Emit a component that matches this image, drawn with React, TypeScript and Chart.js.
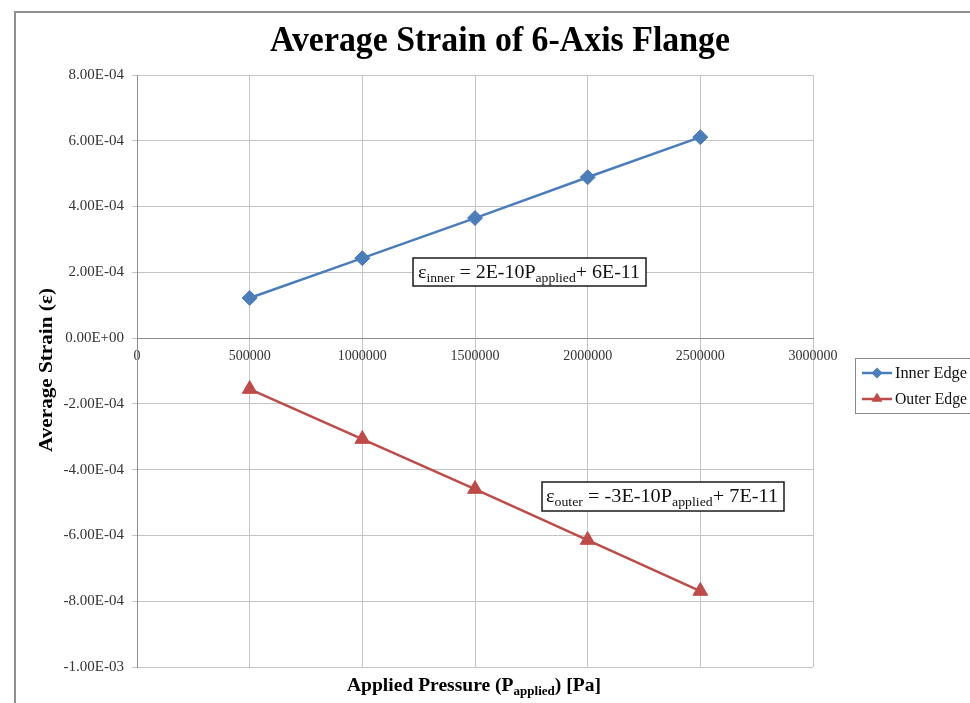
import React, { useEffect, useRef } from 'react';
import { Chart, registerables } from 'chart.js';

Chart.register(...registerables);

// ---- data ----
const pressures = [500000, 1000000, 1500000, 2000000, 2500000];
const innerStrain = [1.22e-4, 2.43e-4, 3.65e-4, 4.89e-4, 6.11e-4];
const outerStrain = [-1.55e-4, -3.07e-4, -4.59e-4, -6.14e-4, -7.69e-4];
const seriesNames = ['Inner Edge', 'Outer Edge'];
const chartTitle = 'Average Strain of 6-Axis Flange';
const xRange = [0, 3000000];
const xStep = 500000;
const yRange = [-1e-3, 8e-4];
const yStep = 2e-4;

type Seg = { t: string; sub?: boolean };
const yTitleSegs: Seg[] = [{ t: 'Average Strain (ε)' }];
const xTitleSegs: Seg[] = [{ t: 'Applied Pressure (P' }, { t: 'applied', sub: true }, { t: ') [Pa]' }];
const innerEqSegs: Seg[] = [{ t: 'ε' }, { t: 'inner', sub: true }, { t: ' = 2E-10P' }, { t: 'applied', sub: true }, { t: '+ 6E-11' }];
const outerEqSegs: Seg[] = [{ t: 'ε' }, { t: 'outer', sub: true }, { t: ' = -3E-10P' }, { t: 'applied', sub: true }, { t: '+ 7E-11' }];

const BLUE = '#4a7ebb';
const RED = '#be4b48';
const SERIF = '"Liberation Serif", "Times New Roman", serif';

function fmtSci(v: number): string {
  if (Math.abs(v) < 1e-12) return '0.00E+00';
  const s = v.toExponential(2).toUpperCase();
  const [m, e] = s.split('E');
  const sign = e[0] === '-' ? '-' : '+';
  const digits = e.replace(/[+-]/, '').padStart(2, '0');
  return `${m}E${sign}${digits}`;
}

function fontStr(size: number, bold: boolean) {
  return `${bold ? 'bold ' : ''}${size}px ${SERIF}`;
}

function measureRich(ctx: CanvasRenderingContext2D, segs: Seg[], size: number, bold: boolean) {
  let w = 0;
  for (const s of segs) {
    ctx.font = fontStr(s.sub ? Math.round(size * 0.68) : size, bold);
    w += ctx.measureText(s.t).width;
  }
  return w;
}

function drawRich(
  ctx: CanvasRenderingContext2D,
  segs: Seg[],
  x: number,
  baseline: number,
  size: number,
  bold: boolean,
  align: 'left' | 'center',
  targetWidth?: number,
  color = '#000'
) {
  const natural = measureRich(ctx, segs, size, bold);
  const sx = targetWidth ? targetWidth / natural : 1;
  const total = natural * sx;
  const startX = align === 'center' ? x - total / 2 : x;
  ctx.save();
  ctx.translate(startX, baseline);
  ctx.scale(sx, 1);
  ctx.fillStyle = color;
  ctx.textAlign = 'left';
  ctx.textBaseline = 'alphabetic';
  let cx = 0;
  for (const s of segs) {
    const fs = s.sub ? Math.round(size * 0.68) : size;
    ctx.font = fontStr(fs, bold);
    ctx.fillText(s.t, cx, s.sub ? size * 0.22 : 0);
    cx += ctx.measureText(s.t).width;
  }
  ctx.restore();
}

function drawDiamond(ctx: CanvasRenderingContext2D, x: number, y: number, r: number) {
  ctx.beginPath();
  ctx.moveTo(x - r, y);
  ctx.lineTo(x, y - r);
  ctx.lineTo(x + r, y);
  ctx.lineTo(x, y + r);
  ctx.closePath();
  ctx.fill();
}

function drawTriangle(ctx: CanvasRenderingContext2D, x: number, y: number, r: number) {
  ctx.beginPath();
  ctx.moveTo(x, y - r);
  ctx.lineTo(x + r, y + r * 0.7);
  ctx.lineTo(x - r, y + r * 0.7);
  ctx.closePath();
  ctx.fill();
}

const decorPlugin = {
  id: 'decor',
  beforeDraw(chart: Chart) {
    const ctx = chart.ctx;
    ctx.save();
    ctx.fillStyle = '#ffffff';
    ctx.fillRect(0, 0, chart.width, chart.height);
    ctx.strokeStyle = '#8f8f8f';
    ctx.lineWidth = 2;
    ctx.beginPath();
    ctx.moveTo(15, chart.height + 5);
    ctx.lineTo(15, 12);
    ctx.lineTo(chart.width + 5, 12);
    ctx.stroke();
    ctx.restore();
  },
  afterDraw(chart: Chart) {
    const ctx = chart.ctx;
    // Title
    drawRich(ctx, [{ t: chartTitle }], 500, 51, 35, true, 'center', 460);
    // X axis title
    drawRich(ctx, xTitleSegs, 474, 691, 18, true, 'center', 254);
    // Y axis title
    ctx.save();
    ctx.translate(52, 370);
    ctx.rotate(-Math.PI / 2);
    drawRich(ctx, yTitleSegs, 0, 0, 18, true, 'center', 164);
    ctx.restore();

    // Equation boxes
    const boxes = [
      { segs: innerEqSegs, x: 413, y: 258, w: 233, h: 28, tx: 418, base: 278, tw: 222 },
      { segs: outerEqSegs, x: 542, y: 482, w: 242, h: 29, tx: 546, base: 502, tw: 232 },
    ];
    for (const b of boxes) {
      ctx.save();
      ctx.fillStyle = '#fff';
      ctx.fillRect(b.x, b.y, b.w, b.h);
      ctx.strokeStyle = '#1a1a1a';
      ctx.lineWidth = 1.5;
      ctx.strokeRect(b.x, b.y, b.w, b.h);
      ctx.restore();
      drawRich(ctx, b.segs, b.tx, b.base, 19, false, 'left', b.tw, '#111');
    }

    // Legend
    ctx.save();
    ctx.fillStyle = '#fff';
    ctx.fillRect(855, 358, 120, 55);
    ctx.strokeStyle = '#8a8a8a';
    ctx.lineWidth = 1;
    ctx.strokeRect(855.5, 358.5, 120, 55);
    const rows = [
      { name: seriesNames[0], color: BLUE, y: 373, marker: 'diamond' },
      { name: seriesNames[1], color: RED, y: 399, marker: 'triangle' },
    ];
    for (const r of rows) {
      ctx.strokeStyle = r.color;
      ctx.fillStyle = r.color;
      ctx.lineWidth = 2.5;
      ctx.beginPath();
      ctx.moveTo(862, r.y);
      ctx.lineTo(892, r.y);
      ctx.stroke();
      if (r.marker === 'diamond') drawDiamond(ctx, 877, r.y, 5.5);
      else drawTriangle(ctx, 877, r.y - 1, 5.5);
      drawRich(ctx, [{ t: r.name }], 895, r.y + 5, 16, false, 'left', 72, '#111');
    }
    ctx.restore();
  },
};

export default function App() {
  const ref = useRef<HTMLCanvasElement | null>(null);

  useEffect(() => {
    if (!ref.current) return;
    const chart = new Chart(ref.current, {
      type: 'line',
      data: {
        datasets: [
          {
            label: seriesNames[0],
            data: pressures.map((p, i) => ({ x: p, y: innerStrain[i] })),
            borderColor: BLUE,
            backgroundColor: BLUE,
            borderWidth: 2.5,
            pointStyle: 'rectRot',
            pointRadius: 7.5,
            pointBorderWidth: 1,
            pointBorderColor: BLUE,
            pointBackgroundColor: BLUE,
            tension: 0,
            fill: false,
          },
          {
            label: seriesNames[1],
            data: pressures.map((p, i) => ({ x: p, y: outerStrain[i] })),
            borderColor: RED,
            backgroundColor: RED,
            borderWidth: 2.5,
            pointStyle: 'triangle',
            pointRadius: 8.5,
            pointBorderWidth: 1,
            pointBorderColor: RED,
            pointBackgroundColor: RED,
            tension: 0,
            fill: false,
          },
        ],
      },
      options: {
        responsive: false,
        animation: false,
        layout: { padding: { top: 75, bottom: 36, left: 0, right: 157 } },
        plugins: {
          legend: { display: false },
          title: { display: false },
          tooltip: { enabled: false },
        },
        scales: {
          x: {
            type: 'linear',
            position: { y: 0 } as any,
            min: xRange[0],
            max: xRange[1],
            ticks: {
              stepSize: xStep,
              autoSkip: false,
              maxRotation: 0,
              padding: 10,
              color: '#333',
              font: { family: SERIF, size: 14 },
              callback: (v: any) => String(v),
            },
            grid: { color: '#c4c4c4', lineWidth: 1, drawTicks: false },
            border: { color: '#8c8c8c', width: 1 },
          },
          y: {
            type: 'linear',
            min: yRange[0],
            max: yRange[1],
            ticks: {
              stepSize: yStep,
              autoSkip: false,
              padding: 8,
              color: '#333',
              font: { family: SERIF, size: 15 },
              callback: (v: any) => fmtSci(Number(v)),
            },
            grid: { color: '#c4c4c4', lineWidth: 1, tickLength: 5 },
            border: { color: '#8c8c8c', width: 1 },
            afterFit: (scale: any) => {
              scale.width = 137;
            },
          },
        },
      },
      plugins: [decorPlugin],
    });
    return () => chart.destroy();
  }, []);

  return (
    <div style={{ position: 'fixed', left: 0, top: 0, width: 970, height: 703 }}>
      <canvas ref={ref} width={970} height={703} style={{ width: 970, height: 703, display: 'block' }} />
    </div>
  );
}
